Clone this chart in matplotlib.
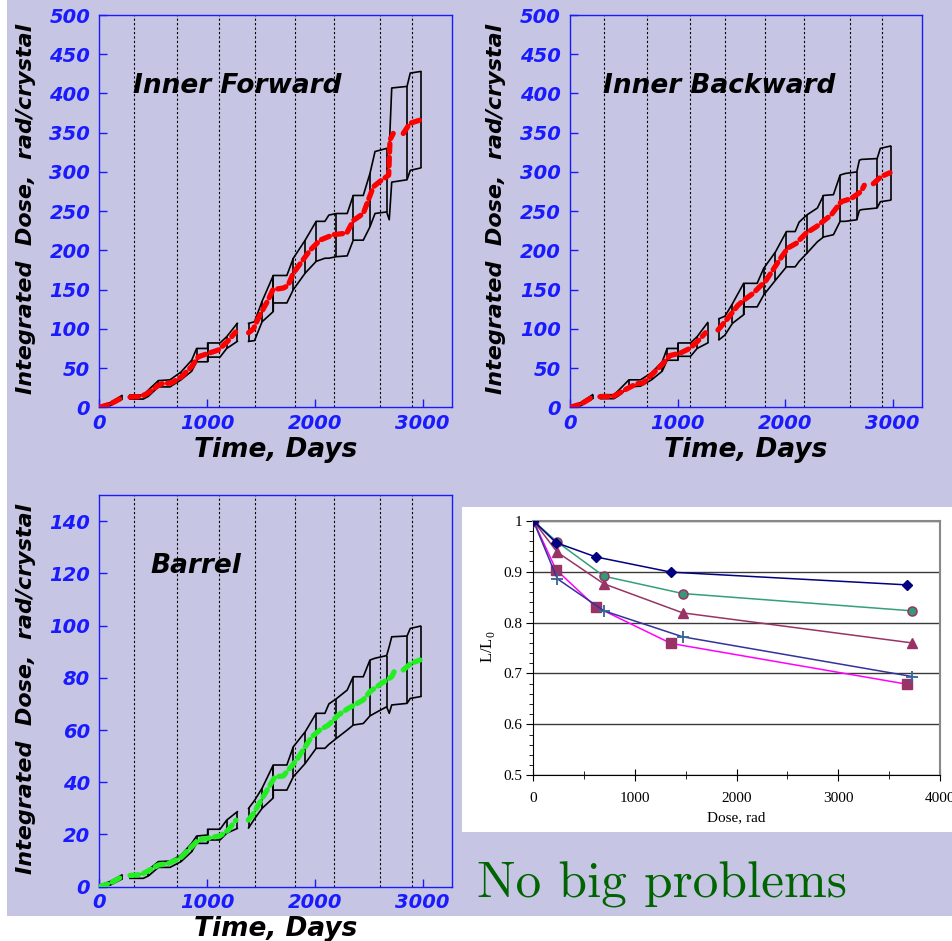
import numpy as np
import matplotlib
matplotlib.use("Agg")
import matplotlib.pyplot as plt
from matplotlib.patches import Rectangle
from matplotlib.ticker import MultipleLocator, FuncFormatter

nan = np.nan

# run boundaries (dotted lines), days
RUN_LINES = [320, 718, 1112, 1442, 1812, 2178, 2605, 2905]

# knots of the black error band, shared by the three panels
ENV_T = [0, 100, 210, nan,
         285, 408, 455, 548, 656, 758, 857, 903, 1005, 1005, 1120, 1182, 1280, nan,
         1385, 1440, 1510, 1614, 1614, 1740, 1800, 1910, 2012, 2093, 2130, 2200, 2300,
         2356, 2449, 2511, 2558, 2666, 2690, 2713, 2855, 2885, 2980]
CUTS = [0, 210, 285, 455, 548, 758, 857, 903, 1005, 1182, 1280, 1385, 1510, 1614,
        1800, 1910, 2012, 2200, 2356, 2511, 2666, 2855, 2980]

# Inner Forward
FWD_T = [0, 100, 208, nan,
         285, 390, 450, 548, 580, 670, 764, 857, 919, 996, 1104, 1197, 1265, nan,
         1385, 1430, 1491, 1560, 1611, 1707, 1750, 1800, 1954, 2047, 2171, 2295, 2356,
         2449, 2542, 2604, 2666, 2685, 2697, 2727, nan, 2820, 2882, 2975]
FWD_Y = [0, 4, 12, nan,
         13, 14, 18, 28, 30, 31, 39, 52, 64.5, 68, 73, 85, 96, nan,
         95, 100, 118, 135, 150, 152, 155, 171, 200, 213, 220, 222, 238,
         247, 281, 288, 294, 296, 341, 349, nan, 349, 362, 366]
FWD_HI = [1, 6, 15, nan,
          15.6, 15.6, 22, 34, 35, 45, 60, 75, 75, 82, 82, 90, 107, nan,
          107, 109, 135, 168, 168, 168, 190, 213, 237, 237, 245, 247, 247,
          270, 270, 298, 326, 330, 330, 407, 409, 426, 428]
FWD_LO = [0, 2, 10, nan,
          10.5, 10.5, 14, 26, 26, 35, 46, 58, 58, 64, 64, 75, 84, nan,
          84, 85, 109, 122, 133, 133, 150, 171, 186, 190, 190, 192, 193,
          213, 213, 230, 247, 249, 239, 287, 290, 302, 305]

# Inner Backward
BWD_T = [0, 100, 216, nan,
         278, 402, 470, 526, 619, 680, 742, 866, 928, 1020, 1113, 1200, 1260, nan,
         1376, 1453, 1561, 1620, 1700, 1824, 1948, 2025, 2103, 2195, 2288, 2427,
         2520, 2613, 2706, 2736, nan, 2820, 2891, 2975]
BWD_Y = [0, 4, 13.5, nan,
         13.5, 14, 19, 23.4, 30, 31, 39, 56, 66, 68.8, 75, 86, 95, nan,
         98.5, 111, 130, 137, 145, 162, 188, 203, 209, 222, 230, 245,
         262, 266, 275, 283, nan, 285, 294, 299]
BWD_HI = [1, 6, 16, nan,
          16, 16, 22, 35, 35, 44, 58, 75, 75, 82, 82, 90, 108, nan,
          113, 116, 132, 158, 158, 158, 177, 198, 224, 224, 236, 245, 254,
          270, 271, 296, 298, 300, 315, 316, 317, 330, 333]
BWD_LO = [0, 2, 11, nan,
          11, 11, 15, 26, 27, 35, 46, 60, 60, 65, 65, 75, 82, nan,
          86, 92, 107, 118, 128, 128, 143, 162, 179, 179, 186, 196, 211,
          217, 220, 237, 237, 239, 251, 252, 254, 262, 264]

# Barrel
BAR_T = [0, 100, 208, nan,
         285, 392, 450, 548, 640, 749, 857, 919, 1011, 1120, 1197, 1268, nan,
         1382, 1430, 1521, 1630, 1707, 1831, 1970, 2047, 2125, 2217, 2310, 2449,
         2511, 2620, 2713, 2735, nan, 2820, 2891, 2975]
BAR_Y = [0, 1.3, 3.8, nan,
         4.3, 4.7, 6, 8.3, 8.9, 10.9, 15.3, 17.9, 18.6, 19.5, 21.7, 25.5, nan,
         25.5, 28, 34.5, 42.1, 42.4, 48.5, 57.4, 60, 61.9, 65.7, 68.3, 71.5,
         74.7, 77.9, 80.4, 82.3, nan, 83, 85.5, 86.8]
BAR_HI = [0.5, 2, 4.5, nan,
          4.9, 4.9, 6.4, 9.6, 9.8, 12.1, 16.6, 19.4, 19.8, 22, 22, 25.5, 28.7, nan,
          30, 33, 37.7, 46.6, 46.6, 46.6, 53.6, 59.3, 66.4, 66.4, 70, 72, 75.3,
          80.4, 80.4, 86.8, 87.5, 88.5, 92, 95.7, 96, 98.9, 99.8]
BAR_LO = [0, 0.6, 2.9, nan,
          3.2, 3.2, 4.1, 7.4, 7.4, 9.6, 13.4, 16.6, 16.6, 17.9, 17.9, 20.5, 22.3, nan,
          22.5, 26, 30, 34, 37, 37, 42.1, 47.2, 53, 53, 54.5, 56.8, 60,
          61.9, 62.5, 65.4, 66.5, 68.9, 66.4, 69.6, 70.2, 72.1, 72.8]

# light output vs dose
DOSE_A = [0, 223, 613, 1354, 3672]
DOSE_B = [0, 236, 695, 1469, 3725]
LUM_DIAMOND = [1.0, 0.957, 0.929, 0.899, 0.874]
LUM_SQUARE = [1.0, 0.904, 0.831, 0.759, 0.679]
LUM_CIRCLE = [1.0, 0.958, 0.891, 0.857, 0.823]
LUM_TRIANGLE = [1.0, 0.938, 0.876, 0.819, 0.760]
LUM_PLUS = [1.0, 0.886, 0.823, 0.772, 0.694]

W, H = 953, 941
LAV = "#c6c6e4"
BLUE = "#1a1aff"

plt.rcParams["font.family"] = "DejaVu Sans"
fig = plt.figure(figsize=(W / 100, H / 100), dpi=100)
fig.add_artist(Rectangle((7 / W, 1 - 916 / H), 1, 916 / H, transform=fig.transFigure,
                         facecolor=LAV, edgecolor="none", zorder=-10))
fig.add_artist(Rectangle((462 / W, 1 - 832 / H), 1, 325 / H, transform=fig.transFigure,
                         facecolor="white", edgecolor="none", zorder=-5))


def px_axes(left, top, right, bottom):
    return fig.add_axes([left / W, 1 - bottom / H, (right - left) / W, (bottom - top) / H])


def dose_panel(ax, t, y, hi, lo, color, ymax, ytop, ystep, title, title_x):
    ax.set_facecolor("none")
    for xv in RUN_LINES:
        ax.axvline(xv, color="k", lw=0.8, ls=(0, (2, 2)), zorder=1)
    et = np.array(ENV_T)
    hi = np.array(hi)
    lo = np.array(lo)
    ax.plot(et, hi, color="k", lw=1.2, zorder=2)
    ax.plot(et, lo, color="k", lw=1.2, zorder=2)
    m = np.isin(et, CUTS)
    ax.vlines(et[m], lo[m], hi[m], color="k", lw=1.2, zorder=2)
    ax.plot(t, y, color=color, lw=3.8, ls=(0, (1.6, 1.0)), dash_capstyle="round", zorder=3)

    ax.set_xlim(0, 3275)
    ax.set_ylim(0, ymax)
    ax.set_xticks([0, 1000, 2000, 3000])
    ax.set_yticks(np.arange(0, ytop + 1, ystep))
    ax.tick_params(direction="in", length=6, width=1, color=BLUE, labelcolor=BLUE,
                   labelsize=14)
    ax.tick_params(axis="y", pad=6.5)
    ax.tick_params(axis="x", pad=4.5)
    for lbl in ax.get_xticklabels() + ax.get_yticklabels():
        lbl.set_fontweight("bold")
        lbl.set_fontstyle("italic")
    for sp in ax.spines.values():
        sp.set_color(BLUE)
        sp.set_linewidth(1)
    ax.text(title_x, 0.80, title, transform=ax.transAxes, fontsize=19,
            fontweight="bold", fontstyle="italic", va="baseline", ha="left")
    ax.text(0.5, -0.127, "Time, Days", transform=ax.transAxes, fontsize=19,
            fontweight="bold", fontstyle="italic", va="baseline", ha="center")
    ax.text(-0.209, 0.505, "Integrated  Dose,  rad/crystal", transform=ax.transAxes,
            fontsize=16, fontweight="bold", fontstyle="italic", rotation=90,
            va="center", ha="center")


ax1 = px_axes(99.3, 15, 452.3, 407.3)
dose_panel(ax1, FWD_T, FWD_Y, FWD_HI, FWD_LO, "#ff0000", 500, 500, 50,
           "Inner Forward", 0.095)
ax2 = px_axes(570, 15, 922.3, 407.3)
dose_panel(ax2, BWD_T, BWD_Y, BWD_HI, BWD_LO, "#ff0000", 500, 500, 50,
           "Inner Backward", 0.094)
ax3 = px_axes(99.3, 495, 452.3, 886.7)
dose_panel(ax3, BAR_T, BAR_Y, BAR_HI, BAR_LO, "#22ee22", 150, 140, 20,
           "Barrel", 0.144)

# L/L0 chart
ax4 = px_axes(533.3, 520.7, 940, 775.3)
ax4.set_facecolor("white")
ax4.plot(DOSE_A, LUM_SQUARE, color="#ff00ff", lw=1.1, marker="s", ms=6.5,
         mfc="#993366", mec="#993366", zorder=3)
ax4.plot(DOSE_B, LUM_PLUS, color="#333399", lw=1.1, marker="+", ms=9, mew=1.3,
         mec="#336699", zorder=3)
ax4.plot(DOSE_B, LUM_TRIANGLE, color="#993366", lw=1.1, marker="^", ms=6.5,
         mfc="#993366", mec="#993366", zorder=3)
ax4.plot(DOSE_B, LUM_CIRCLE, color="#33a07a", lw=1.1, marker="o", ms=6.5,
         mfc="#339977", mec="#993366", mew=1.1, zorder=4)
ax4.plot(DOSE_A, LUM_DIAMOND, color="#000080", lw=1.1, marker="D", ms=5,
         mfc="#000080", mec="#000080", zorder=5)
ax4.set_xlim(0, 4000)
ax4.set_ylim(0.5, 1.0)
ax4.xaxis.set_major_locator(MultipleLocator(1000))
ax4.xaxis.set_minor_locator(MultipleLocator(500))
ax4.yaxis.set_major_locator(MultipleLocator(0.1))
ax4.yaxis.set_minor_locator(MultipleLocator(0.02))
ax4.yaxis.set_major_formatter(FuncFormatter(lambda v, p: "%g" % round(v, 2)))
ax4.yaxis.grid(True, which="major", color="#3a3a3a", lw=1)
ax4.set_axisbelow(True)
ax4.tick_params(axis="y", which="major", direction="out", length=5, pad=3, labelsize=11)
ax4.tick_params(axis="y", which="minor", direction="out", length=3)
ax4.tick_params(axis="x", which="major", direction="inout", length=8, pad=8, labelsize=11)
ax4.tick_params(axis="x", which="minor", direction="inout", length=6)
for lbl in ax4.get_xticklabels() + ax4.get_yticklabels():
    lbl.set_fontfamily("Liberation Serif")
ax4.spines["top"].set_color("#888888")
ax4.spines["right"].set_color("#888888")
ax4.spines["top"].set_linewidth(1.5)
ax4.spines["right"].set_linewidth(1.5)
ax4.text(0.5, -0.182, "Dose, rad", transform=ax4.transAxes, fontsize=11,
         family="Liberation Serif", ha="center", va="baseline")
ax4.text(-0.111, 0.505, r"L/L$_{\mathregular{0}}$", transform=ax4.transAxes, fontsize=12,
         family="Liberation Serif", rotation=90, ha="center", va="center")

fig.text(477 / W, 1 - 898 / H, "No big problems", family="cmr10", fontsize=37,
         color="#006400", va="baseline", ha="left")

fig.savefig("out.png", dpi=100)
